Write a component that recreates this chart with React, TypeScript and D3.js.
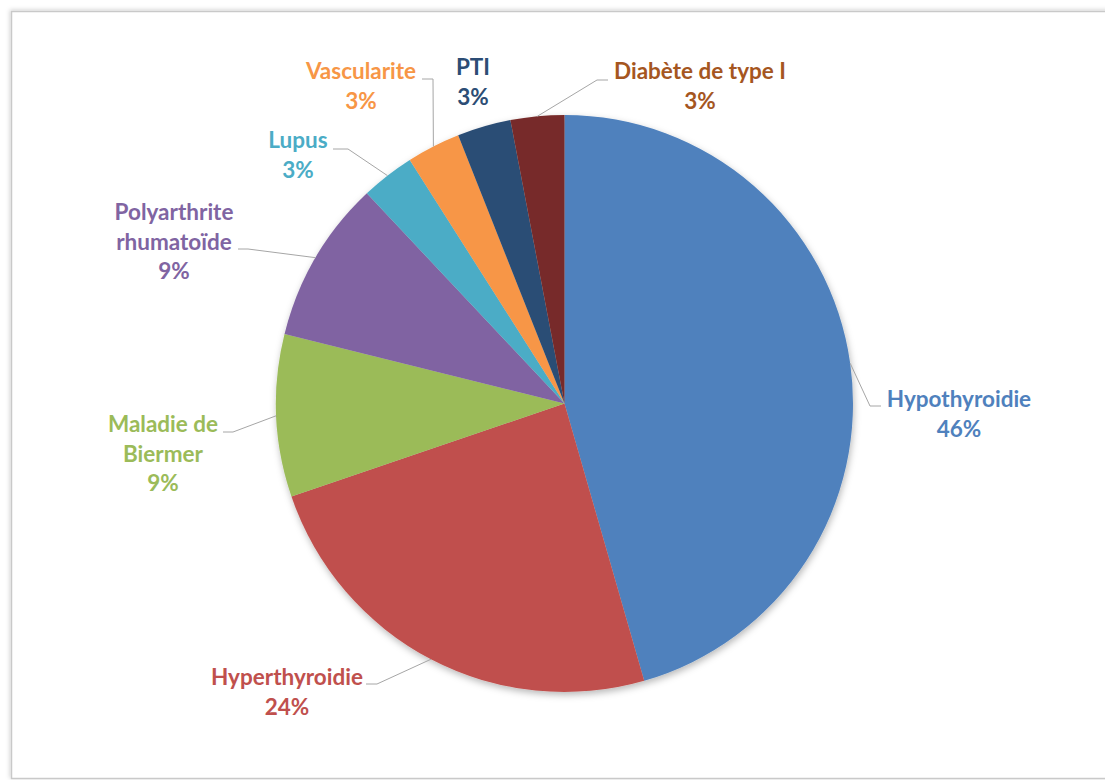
import React from "react";
import * as d3 from "d3";

const categories = [
  "Hypothyroidie",
  "Hyperthyroidie",
  "Maladie de Biermer",
  "Polyarthrite rhumatoïde",
  "Lupus",
  "Vascularite",
  "PTI",
  "Diabète de type I",
];
const values = [45.5, 24.2, 9.1, 9.1, 3.0, 3.0, 3.0, 3.0];
const sliceColors = ["#4F81BD", "#C0504D", "#9BBB59", "#8064A2", "#4BACC6", "#F79646", "#2C4D75", "#772C2A"];
const labelColors = ["#4F81BD", "#C0504D", "#9BBB59", "#8064A2", "#4BACC6", "#F79646", "#2C4D75", "#A5561F"];
const labelLines = [
  ["Hypothyroidie"],
  ["Hyperthyroidie"],
  ["Maladie de", "Biermer"],
  ["Polyarthrite", "rhumatoïde"],
  ["Lupus"],
  ["Vascularite"],
  ["PTI"],
  ["Diabète de type I"],
];

// label layout: text center x, first baseline y, leader (label end point, elbow) or null
const labelLayout: { x: number; y: number; end: [number, number] | null; elbow: [number, number] | null }[] = [
  { x: 959, y: 407, end: [881, 406], elbow: [870, 406] },
  { x: 287, y: 685, end: [366, 684], elbow: [377, 684] },
  { x: 163, y: 432, end: [223, 432], elbow: [233, 432] },
  { x: 174, y: 220, end: [238, 249], elbow: [248, 249] },
  { x: 298, y: 148, end: [333, 149], elbow: [348, 149] },
  { x: 361, y: 79, end: [422, 79], elbow: [433, 79] },
  { x: 473, y: 75, end: null, elbow: null },
  { x: 700, y: 79, end: [608, 80], elbow: [597, 80] },
];

const W = 1105;
const H = 780;
const cx = 564.5;
const cy = 403.5;
const R = 288.5;

export default function App() {
  const total = d3.sum(values);
  const pie = d3
    .pie<number>()
    .sort(null)
    .value((d) => d)
    .startAngle(0)
    .endAngle(2 * Math.PI);
  const arcs = pie(values);
  const arcGen = d3.arc<d3.PieArcDatum<number>>().innerRadius(0).outerRadius(R);
  const fmt = d3.format(".0%");

  return (
    <svg
      width={W}
      height={H}
      style={{ position: "absolute", left: 0, top: 0, display: "block" }}
      fontFamily="Lato, 'Open Sans', sans-serif"
    >
      <defs>
        <filter id="pieShadow" x="-20%" y="-20%" width="140%" height="140%">
          <feDropShadow dx="1" dy="3" stdDeviation="3.5" floodColor="#000" floodOpacity="0.28" />
        </filter>
        <filter id="frameShadow" x="-5%" y="-5%" width="110%" height="110%">
          <feDropShadow dx="-1" dy="-1" stdDeviation="2" floodColor="#000" floodOpacity="0.18" />
        </filter>
      </defs>
      <rect x={0} y={0} width={W} height={H} fill="#fff" />
      <rect
        x={11.5}
        y={11.5}
        width={W}
        height={767}
        fill="#fff"
        stroke="#c9c9c9"
        strokeWidth={1.5}
        filter="url(#frameShadow)"
      />
      <g transform={`translate(${cx},${cy})`} filter="url(#pieShadow)">
        {arcs.map((a, i) => (
          <path key={categories[i]} d={arcGen(a) || ""} fill={sliceColors[i]} />
        ))}
      </g>
      {arcs.map((a, i) => {
        const L = labelLayout[i];
        const mid = (a.startAngle + a.endAngle) / 2;
        const px = cx + R * Math.sin(mid);
        const py = cy - R * Math.cos(mid);
        return L.end && L.elbow ? (
          <polyline
            key={"l" + i}
            points={`${L.end[0]},${L.end[1]} ${L.elbow[0]},${L.elbow[1]} ${px},${py}`}
            fill="none"
            stroke="#a6a6a6"
            strokeWidth={1}
          />
        ) : null;
      })}
      {categories.map((c, i) => {
        const L = labelLayout[i];
        const lines = [...labelLines[i], fmt(values[i] / total)];
        return (
          <text
            key={"t" + c}
            x={L.x}
            y={L.y}
            textAnchor="middle"
            fontSize={22.5}
            fontWeight="bold"
            fill={labelColors[i]}
          >
            {lines.map((ln, j) => (
              <tspan key={j} x={L.x} y={L.y + j * 29.7}>
                {ln}
              </tspan>
            ))}
          </text>
        );
      })}
    </svg>
  );
}
